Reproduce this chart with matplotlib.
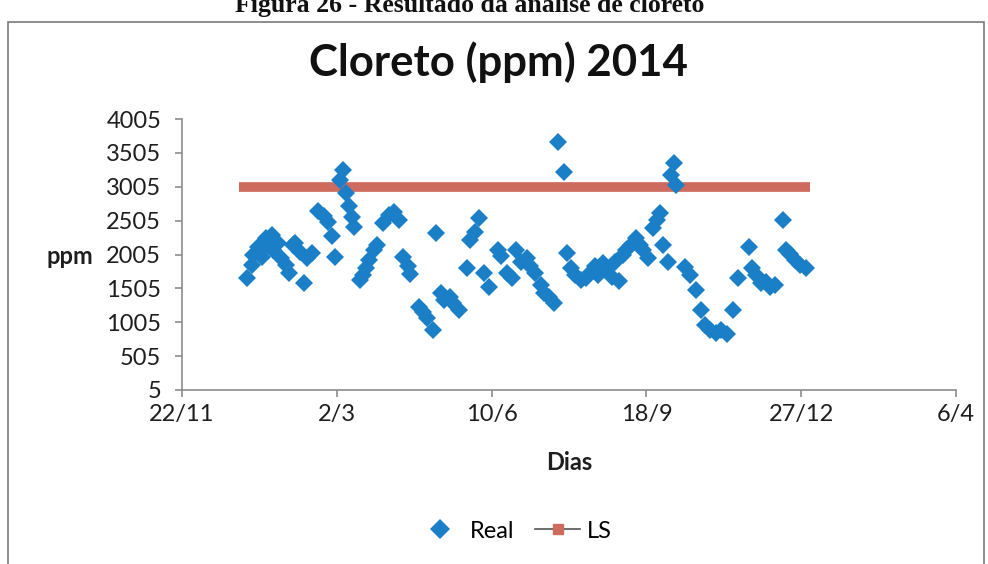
import numpy as np
import matplotlib
matplotlib.use("Agg")
import matplotlib.pyplot as plt
import matplotlib.dates as mdates
from matplotlib.ticker import FuncFormatter, FixedLocator
from matplotlib.lines import Line2D
from matplotlib.patches import Rectangle

# ---- data ----
# day offset from 01/01/2014
real_days = [2, 5, 6, 9, 12, 14, 15, 18, 19, 22, 24, 27, 29, 32, 33, 36, 39, 41, 44,
             48, 52, 54, 57, 59, 62, 64, 66, 68, 70, 71, 75, 77, 79, 81, 84, 86, 90,
             94, 97, 100, 103, 106, 107, 113, 116, 118, 122, 124, 127, 129, 133, 135,
             139, 144, 146, 149, 152, 155, 158, 164, 166, 170, 173, 176, 179, 183, 185,
             188, 192, 194, 197, 200, 203, 207, 209, 211, 214, 218, 221, 224, 227, 229,
             232, 234, 238, 240, 242, 245, 247, 250, 253, 256, 258, 261, 264, 267, 269,
             271, 274, 276, 278, 279, 285, 288, 292, 295, 298, 301, 305, 308, 312, 316,
             319, 326, 328, 331, 334, 337, 340, 343, 348, 350, 353, 356, 359, 363]
real_ppm = [1657, 1849, 1996, 2114, 1967, 2247, 2144, 2291, 2070, 2173, 1952, 1849,
            1731, 2144, 2173, 2041, 1583, 1952, 2026, 2645, 2572, 2483, 2277, 1967,
            3103, 3250, 2911, 2719, 2557, 2409, 1628, 1701, 1805, 1923, 2070, 2144,
            2468, 2586, 2631, 2513, 1967, 1834, 1716, 1229, 1155, 1067, 890, 2321,
            1436, 1333, 1377, 1288, 1185, 1805, 2218, 2336, 2542, 1731, 1524, 2070,
            1982, 1731, 1657, 2070, 1893, 1952, 1834, 1731, 1554, 1436, 1377, 1288,
            3663, 3221, 2026, 1805, 1701, 1628, 1657, 1746, 1834, 1701, 1878, 1775,
            1672, 1893, 1613, 1996, 2070, 2144, 2247, 2144, 2070, 1952, 2395, 2513,
            2616, 2144, 1893, 3176, 3353, 3029, 1819, 1701, 1480, 1185, 964, 890, 846,
            890, 831, 1185, 1657, 2114, 1805, 1701, 1583, 1598, 1524, 1554, 2513, 2070,
            2011, 1923, 1849, 1805]
ls_dates = ["2013-12-29", "2015-01-02"]
ls_ppm = [3005, 3005]

title = "Cloreto (ppm) 2014"
caption = "Figura 26 - Resultado da análise de cloreto"
x_ticks = ["2013-11-22", "2014-03-02", "2014-06-10", "2014-09-18", "2014-12-27", "2015-04-06"]
y_ticks = [5, 505, 1005, 1505, 2005, 2505, 3005, 3505, 4005]

# ---- plot ----
plt.rcParams['font.family'] = ['Lato', 'DejaVu Sans']
blue = '#1a7fc6'
red = '#cc6b5e'
axis_grey = '#8c8c8c'
txt = '#1e1e1e'
fs = 17

fig = plt.figure(figsize=(9.88, 5.64), dpi=100)
W, H = 988, 564
ax = fig.add_axes([182 / W, 1 - 390 / H, (956 - 182) / W, (390 - 119) / H])

base = np.datetime64("2014-01-01")
real_x = base + np.array(real_days).astype("timedelta64[D]")
ls_x = np.array(ls_dates, dtype="datetime64[D]")

ax.plot(ls_x, ls_ppm, color=red, lw=7, solid_capstyle='butt', zorder=2)
ax.plot(real_x, real_ppm, linestyle='none', marker='D', ms=8.7, color=blue,
        markeredgewidth=0, zorder=3)

xt = np.array(x_ticks, dtype="datetime64[D]")
ax.set_xlim(mdates.date2num(xt[0]), mdates.date2num(xt[-1]))
ax.xaxis.set_major_locator(FixedLocator(mdates.date2num(xt)))
ax.xaxis.set_major_formatter(FuncFormatter(
    lambda v, p: f"{mdates.num2date(v).day}/{mdates.num2date(v).month}"))
ax.set_ylim(5, 4005)
ax.set_yticks(y_ticks)

for s in ['top', 'right']:
    ax.spines[s].set_visible(False)
for s in ['left', 'bottom']:
    ax.spines[s].set_color(axis_grey)
    ax.spines[s].set_linewidth(1.2)
ax.tick_params(axis='both', colors=axis_grey, length=5, width=1.2, labelcolor=txt,
               labelsize=fs)
ax.tick_params(axis='y', pad=10)
ax.tick_params(axis='x', pad=5)

ax.set_xlabel("Dias", fontsize=fs, fontweight='bold', color=txt, labelpad=19)
fig.text(70 / W, 1 - 256 / H, "ppm", fontsize=fs, fontweight='bold', color=txt,
         ha='center', va='center')
fig.text(498 / W, 1 - 62 / H, title, fontsize=31.5, fontweight='bold', color='#111111',
         ha='center', va='center')
fig.text(470 / W, 1 - 12 / H, caption, fontsize=18.5, fontweight='bold', color='#111111',
         ha='center', va='baseline', family=['Liberation Serif'])

# frame
fig.patches.append(Rectangle((8 / W, -0.01), (984 - 8) / W, 1 - 22 / H + 0.01,
                             transform=fig.transFigure, fill=False,
                             edgecolor='#7a7a7a', lw=1.2))

handles = [Line2D([], [], linestyle='none', marker='D', ms=10, color=blue, markeredgewidth=0),
           Line2D([], [], color='#555555', lw=1.2, marker='s', ms=6.5, markerfacecolor=red,
                  markeredgecolor=red)]
fig.legend(handles, ["Real", "LS"], loc='center', bbox_to_anchor=(515 / W, 1 - 531 / H),
           ncol=2, frameon=False, fontsize=fs, handlelength=1.9, columnspacing=0.9,
           handletextpad=0.3)

fig.savefig("out.png", dpi=100)
